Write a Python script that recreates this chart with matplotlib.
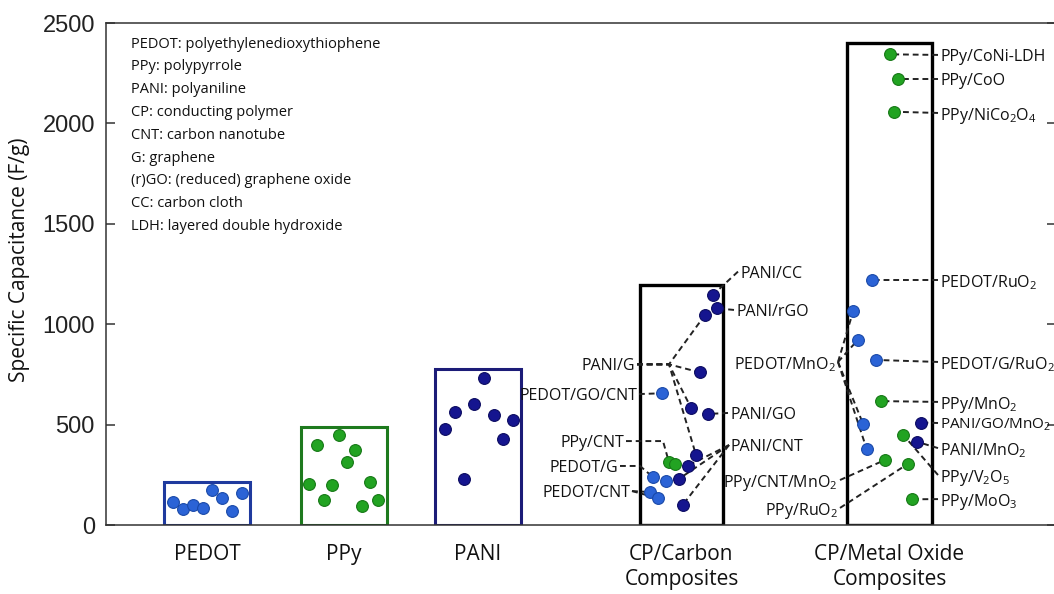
import matplotlib
matplotlib.use("Agg")
import matplotlib.pyplot as plt

plt.rcParams['font.family'] = ['Open Sans', 'DejaVu Sans']
plt.rcParams['mathtext.fontset'] = 'custom'
plt.rcParams['mathtext.rm'] = 'Open Sans'
plt.rcParams['mathtext.default'] = 'regular'

# --- data (F/g), x in axis units 0..950 ---
Y_TICKS = [0, 500, 1000, 1500, 2000, 2500]
CATEGORIES = ['PEDOT', 'PPy', 'PANI', 'CP/Carbon\nComposites', 'CP/Metal Oxide\nComposites']
BOX_TOP = [215, 490, 775, 1195, 2400]

pedot_x = [67, 77, 87, 97, 106, 116, 126, 136]
pedot_y = [116, 80, 100, 86, 174, 136, 70, 161]

ppy_x = [211, 233, 249, 241, 203, 226, 264, 218, 272, 256]
ppy_y = [398, 450, 372, 315, 204, 198, 214, 123, 126, 95]

pani_x = [378, 349, 368, 388, 407, 339, 397, 358]
pani_y = [730, 561, 603, 548, 523, 478, 428, 231]

carbon_x = [606.7, 611, 599, 594, 555.7, 585, 602, 590, 563, 569, 581.7, 547.3, 560, 573.3, 544, 552.3, 576.7]
carbon_y = [1145, 1079, 1046, 760, 656, 584, 553, 349, 312, 305, 295, 237, 221, 231, 164, 133, 100]
carbon_kind = ['d', 'd', 'd', 'd', 'l', 'd', 'd', 'd', 'g', 'g', 'd', 'l', 'l', 'd', 'l', 'l', 'd']

metal_x = [784, 792.3, 788, 765.7, 747.3, 751.7, 770, 774.7, 815, 757.3, 797.3, 810.7, 760.7, 779, 801.7, 806.3]
metal_y = [2344, 2221, 2058, 1220, 1067, 921, 822, 617, 510, 501, 448, 415, 378, 324, 304, 128]
metal_kind = ['g', 'g', 'g', 'l', 'l', 'l', 'l', 'g', 'd', 'l', 'g', 'd', 'l', 'g', 'g', 'g']

GLOSSARY = [
    'PEDOT: polyethylenedioxythiophene',
    'PPy: polypyrrole',
    'PANI: polyaniline',
    'CP: conducting polymer',
    'CNT: carbon nanotube',
    'G: graphene',
    '(r)GO: (reduced) graphene oxide',
    'CC: carbon cloth',
    'LDH: layered double hydroxide',
]

# --- layout ---
BOX_CENTERS = [101, 238, 372, 575.5, 783.5]
BOX_WIDTHS = [86, 86, 86, 83, 85]
BOX_COLORS = ['#1f3a9e', '#1e7a1e', '#1c1c78', 'black', 'black']
BOX_LW = [2.2, 2.2, 2.2, 2.4, 2.4]

FACE = {'l': '#2b63d6', 'd': '#15158f', 'g': '#22a322'}
EDGE = {'l': '#1a49a8', 'd': '#0b0b60', 'g': '#167816'}

# label text, x, y, ha, elbow, targets (group, index)
LABELS = [
    ('PANI/CC', 634, 1262, 'left', None, [('c', 0)]),
    ('PANI/rGO', 630, 1071, 'left', None, [('c', 1)]),
    ('PANI/GO', 624, 558, 'left', None, [('c', 6)]),
    ('PANI/CNT', 625, 398, 'left', None, [('c', 10), ('c', 13), ('c', 16)]),
    ('PANI/G', 529, 800, 'right', (563, 800), [('c', 2), ('c', 3), ('c', 5), ('c', 7)]),
    ('PEDOT/GO/CNT', 531, 652, 'right', None, [('c', 4)]),
    ('PPy/CNT', 518, 418, 'right', (557, 418), [('c', 8)]),
    ('PEDOT/G', 512, 294, 'right', (534, 294), [('c', 11)]),
    ('PEDOT/CNT', 524, 169, 'right', None, [('c', 14), ('c', 15)]),
    ('PEDOT/MnO$_2$', 730, 812, 'right', None, [('m', 4), ('m', 5), ('m', 9), ('m', 12)]),
    ('PPy/CNT/MnO$_2$', 732, 224, 'right', None, [('m', 13)]),
    ('PPy/RuO$_2$', 732, 85, 'right', None, [('m', 14)]),
    ('PPy/CoNi-LDH', 834, 2341, 'left', None, [('m', 0)]),
    ('PPy/CoO', 834, 2221, 'left', None, [('m', 1)]),
    ('PPy/NiCo$_2$O$_4$', 834, 2052, 'left', None, [('m', 2)]),
    ('PEDOT/RuO$_2$', 834, 1220, 'left', None, [('m', 3)]),
    ('PEDOT/G/RuO$_2$', 834, 812, 'left', None, [('m', 6)]),
    ('PPy/MnO$_2$', 834, 613, 'left', None, [('m', 7)]),
    ('PANI/GO/MnO$_2$', 834, 508, 'left', None, [('m', 8)]),
    ('PANI/MnO$_2$', 834, 383, 'left', None, [('m', 11)]),
    ('PPy/V$_2$O$_5$', 834, 249, 'left', None, [('m', 10)]),
    ('PPy/MoO$_3$', 834, 129, 'left', None, [('m', 15)]),
]

fig = plt.figure(figsize=(10.54, 5.94), dpi=100)
ax = fig.add_axes([106 / 1054, 69 / 594, 950 / 1054, 502 / 594])
ax.set_xlim(0, 950)
ax.set_ylim(0, 2500)

# boxes
ax.bar(BOX_CENTERS, BOX_TOP, width=BOX_WIDTHS, fill=False,
       edgecolor=BOX_COLORS, linewidth=BOX_LW, zorder=2)

def dots(xs, ys, kind):
    ax.scatter(xs, ys, s=72, c=FACE[kind], edgecolors=EDGE[kind], linewidths=0.8, zorder=4)

dots(pedot_x, pedot_y, 'l')
dots(ppy_x, ppy_y, 'g')
dots(pani_x, pani_y, 'd')
for k in 'ldg':
    dots([x for x, t in zip(carbon_x, carbon_kind) if t == k],
         [y for y, t in zip(carbon_y, carbon_kind) if t == k], k)
    dots([x for x, t in zip(metal_x, metal_kind) if t == k],
         [y for y, t in zip(metal_y, metal_kind) if t == k], k)

groups = {'c': (carbon_x, carbon_y), 'm': (metal_x, metal_y)}
for text, lx, ly, ha, via, targets in LABELS:
    size = 11.0 if 'GO/MnO' in text else 11.5
    ax.text(lx, ly, text, ha=ha, va='center_baseline', fontsize=size, color='#111', zorder=5)
    sx = lx - 2 if ha == 'left' else lx + 2
    for g, i in targets:
        px, py = groups[g][0][i], groups[g][1][i]
        xs, ys = [sx], [ly]
        if via is not None:
            xs.append(via[0]); ys.append(via[1])
        xs.append(px); ys.append(py)
        ax.plot(xs, ys, color='#222', lw=1.4, dashes=(3, 2), zorder=3)

# glossary
for i, line in enumerate(GLOSSARY):
    ax.text(25, 2500 - (47.5 + 22.8 * i - 23) / 0.2008, line, ha='left', va='baseline',
            fontsize=10.5, color='#111')

# axes styling
for s in ax.spines.values():
    s.set_color('#333')
    s.set_linewidth(1.1)
ax.set_yticks(Y_TICKS)
ax.set_yticklabels([str(v) for v in Y_TICKS], fontfamily='Liberation Sans', fontsize=17, color='#222')
ax.tick_params(axis='y', direction='in', length=6.5, width=1.1, pad=8, right=True, color='#333')
ax.set_xticks(BOX_CENTERS)
ax.set_xticklabels(CATEGORIES, fontsize=15, color='#111', linespacing=1.2)
ax.tick_params(axis='x', length=0, pad=14)

fig.text(20 / 1054, 1 - 260 / 594, 'Specific Capacitance (F/g)', rotation=90,
         ha='center', va='center', fontsize=15, color='#111')

fig.savefig('out.png', dpi=100)
